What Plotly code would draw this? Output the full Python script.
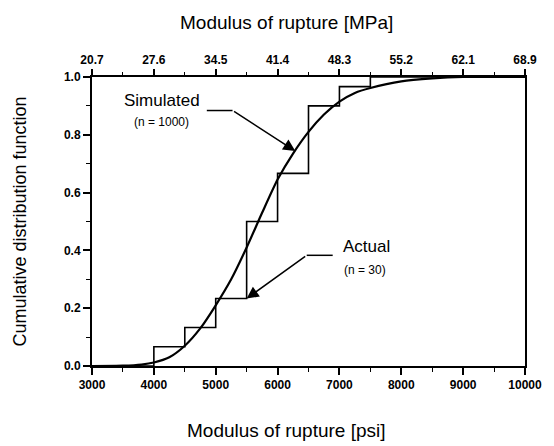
import plotly.graph_objects as go

# ---- data ----
actual_x = [3000, 4000, 4500, 5000, 5500, 6000, 6500, 7000, 7500, 10000]
actual_cdf = [0.0, 2/30, 4/30, 7/30, 15/30, 20/30, 27/30, 29/30, 1.0, 1.0]

sim_x = [3000, 3500, 3800, 4000, 4250, 4500, 4750, 5000, 5250, 5500, 5750,
         6000, 6250, 6500, 6750, 7000, 7250, 7500, 8000, 8500, 9000, 10000]
sim_cdf = [0.0, 0.001, 0.005, 0.012, 0.03, 0.07, 0.13, 0.21, 0.30, 0.41, 0.53,
           0.645, 0.735, 0.81, 0.87, 0.915, 0.945, 0.962, 0.985, 0.995, 1.0, 1.0]

psi_ticks = [3000, 4000, 5000, 6000, 7000, 8000, 9000, 10000]
psi_labels = ["3000", "4000", "5000", "6000", "7000", "8000", "9000", "10000"]
mpa_labels = ["20.7", "27.6", "34.5", "41.4", "48.3", "55.2", "62.1", "68.9"]
cdf_ticks = [0.0, 0.2, 0.4, 0.6, 0.8, 1.0]

FONT = "Liberation Sans, Arial, Helvetica, sans-serif"

fig = go.Figure()
fig.add_trace(go.Scatter(x=actual_x, y=actual_cdf, mode="lines",
                         line=dict(color="black", width=1.6, shape="hv"),
                         showlegend=False, cliponaxis=False))
fig.add_trace(go.Scatter(x=sim_x, y=sim_cdf, mode="lines",
                         line=dict(color="black", width=2.2, shape="spline", smoothing=0.6),
                         showlegend=False, cliponaxis=False))
# invisible trace for top axis
fig.add_trace(go.Scatter(x=[3000, 10000], y=[0, 0], xaxis="x2", mode="lines",
                         line=dict(width=0), showlegend=False, hoverinfo="skip"))

tickfont = dict(family=FONT, size=12, color="black", weight="bold")

fig.update_layout(
    width=554, height=446,
    margin=dict(l=92, r=19, t=77, b=80),
    paper_bgcolor="white", plot_bgcolor="white",
    xaxis=dict(range=[3000, 10000], tickvals=psi_ticks, ticktext=psi_labels, ticks="outside",
               ticklen=7, tickwidth=1.5, tickcolor="black",
               minor=dict(dtick=500, ticks="outside", ticklen=4, tickwidth=1, tickcolor="black"),
               showline=True, linewidth=2, linecolor="black", mirror=True,
               showgrid=False, zeroline=False, tickfont=tickfont),
    xaxis2=dict(range=[3000, 10000], overlaying="x", side="top",
                tickvals=psi_ticks, ticktext=mpa_labels, ticks="outside",
                ticklen=7, tickwidth=1.5, tickcolor="black",
                minor=dict(dtick=500, ticks="outside", ticklen=4, tickwidth=1, tickcolor="black"),
                showline=False, showgrid=False, zeroline=False, tickfont=tickfont),
    yaxis=dict(range=[0, 1], tickvals=cdf_ticks, tickformat=".1f", ticks="outside",
               ticklen=7, tickwidth=1.5, tickcolor="black",
               minor=dict(dtick=0.1, ticks="outside", ticklen=4, tickwidth=1, tickcolor="black"),
               showline=True, linewidth=2, linecolor="black", mirror=True,
               showgrid=False, zeroline=False, tickfont=tickfont),
)

title_font = dict(family=FONT, size=19, color="black")
fig.add_annotation(text="Modulus of rupture [MPa]", xref="paper", yref="paper",
                   x=0.45, y=1, yshift=55, showarrow=False, font=title_font,
                   xanchor="center", yanchor="middle")
fig.add_annotation(text="Modulus of rupture [psi]", xref="paper", yref="paper",
                   x=0.45, y=0, yshift=-64, showarrow=False, font=title_font,
                   xanchor="center", yanchor="middle")
fig.add_annotation(text="Cumulative distribution function", xref="paper", yref="paper",
                   x=0, y=0.5, xshift=-73, textangle=-90, showarrow=False,
                   font=dict(family=FONT, size=18, color="black"),
                   xanchor="center", yanchor="middle")

lab_big = dict(family=FONT, size=17, color="black")
lab_small = dict(family=FONT, size=12, color="black")
fig.add_annotation(text="Simulated", x=4137, y=0.92, showarrow=False, font=lab_big)
fig.add_annotation(text="(n = 1000)", x=4122, y=0.844, showarrow=False, font=lab_small)
fig.add_annotation(text="Actual", x=7432, y=0.413, showarrow=False, font=lab_big)
fig.add_annotation(text="(n = 30)", x=7418, y=0.332, showarrow=False, font=lab_small)

# leader lines + arrows
fig.add_shape(type="line", x0=4856, x1=5272, y0=0.884, y1=0.884,
              line=dict(color="black", width=1.5))
fig.add_annotation(x=6286, y=0.744, ax=5272, ay=0.884, axref="x", ayref="y",
                   text="", showarrow=True, arrowhead=2, arrowsize=1.6,
                   arrowwidth=1.5, arrowcolor="black")
fig.add_shape(type="line", x0=6471, x1=6891, y0=0.383, y1=0.383,
              line=dict(color="black", width=1.5))
fig.add_annotation(x=5500, y=7/30, ax=6471, ay=0.383, axref="x", ayref="y",
                   text="", showarrow=True, arrowhead=2, arrowsize=1.6,
                   arrowwidth=1.5, arrowcolor="black")

fig.write_html("out.html", config={"displayModeBar": False},
               post_script="document.body.style.margin='0';document.body.style.overflow='hidden';")
